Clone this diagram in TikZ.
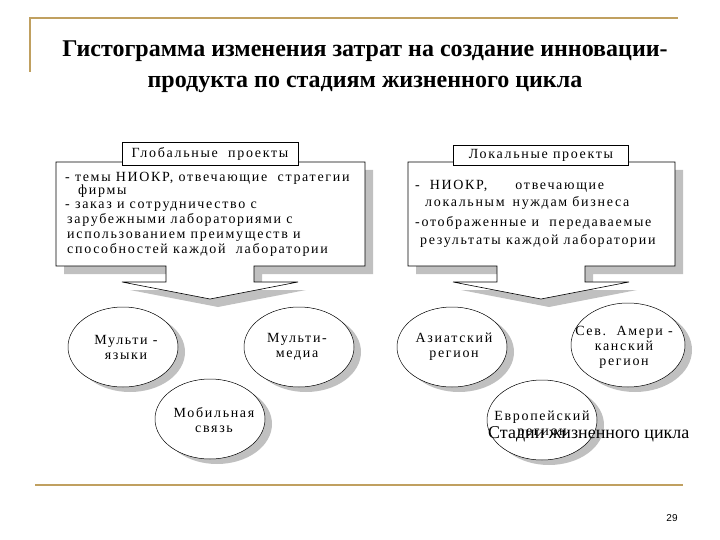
\documentclass[tikz,border=0pt]{standalone}
\usepackage{fontspec}
\setmainfont{Liberation Serif}
\newfontfamily\boxfont{Liberation Serif}[LetterSpace=12]
\newfontfamily\numfont{Liberation Sans}
\usetikzlibrary{shapes.geometric,shadows}

\definecolor{goldline}{RGB}{192,160,96}
\definecolor{shadowgray}{RGB}{192,192,192}

% box with a wide arrow under it: #1 centre x, #2 left edge, #3 right edge
\newcommand{\calloutpath}[3]{%
  (#2,162) -- (#3,162) -- (#3,266) -- (#1+44,266) -- (#1+44,282)
  -- (#1+88,282) -- (#1,299) -- (#1-88,282) -- (#1-44,282)
  -- (#1-44,266) -- (#2,266) -- cycle}

\begin{document}
\begin{tikzpicture}[x=1pt,y=-1pt,
  rule/.style={goldline,line width=1.6pt},
  titletext/.style={anchor=base,inner sep=0pt,font=\bfseries\fontsize{24}{27}\selectfont},
  shade/.style={fill=shadowgray,draw=none},
  callout/.style={draw=black,fill=white,line width=0.6pt},
  headbox/.style={draw=black,fill=white,line width=0.6pt,inner sep=0pt,
    font=\boxfont\fontsize{14}{16}\selectfont},
  boxline/.style={anchor=base west,inner sep=0pt,font=\boxfont\fontsize{14}{16}\selectfont},
  bubble/.style={ellipse,draw=black,fill=white,line width=0.5pt,inner sep=0pt,
    minimum width=110,minimum height=80,
    drop shadow={shadow xshift=7pt,shadow yshift=-5pt,fill=shadowgray,opacity=1}},
  bubtext/.style={align=center,inner sep=0pt,font=\boxfont\fontsize{14}{15}\selectfont}]

  \useasboundingbox (0,0) rectangle (720,540);

  % slide frame
  \draw[rule] (30,72) -- (30,18) -- (678,18);
  \draw[rule] (35,485) -- (683,485);

  \node[titletext] (title1) at (365,57) {Гистограмма изменения затрат на создание инновации-};
  \node[titletext] (title2) at (365,88) {продукта по стадиям жизненного цикла};

  %% left panel
  \fill[shade,shift={(8,8)}] \calloutpath{210}{56}{365};
  \draw[callout] \calloutpath{210}{56}{365};
  \node[headbox,minimum width=176,minimum height=23] (globhead) at (210,154) {Глобальные\ \ проекты};

  \node[boxline] (gl1) at (65,182) {- темы НИОКР, отвечающие\ \ стратегии};
  \node[boxline] (gl2) at (78,195) {фирмы};
  \node[boxline] (gl3) at (65,209) {- заказ и сотрудничество с};
  \node[boxline] (gl4) at (67,223) {зарубежными лабораториями с};
  \node[boxline] (gl5) at (67,238) {использованием преимуществ и};
  \node[boxline] (gl6) at (67,254) {способностей каждой\ \ лаборатории};

  %% right panel
  \fill[shade,shift={(8,8)}] \calloutpath{541}{408}{675};
  \draw[callout] \calloutpath{541}{408}{675};
  \node[headbox,minimum width=175,minimum height=20] (lochead) at (541,155) {Локальные проекты};

  \node[boxline] (lc1) at (415,190) {-\hspace{10pt}НИОКР,\hspace{28pt}отвечающие};
  \node[boxline] (lc2) at (425,207) {локальным\hspace{8pt}нуждам бизнеса};
  \node[boxline] (lc3) at (415,226) {-отображенные и\ \ передаваемые};
  \node[boxline] (lc4) at (420,244) {результаты каждой лаборатории};

  %% bubbles
  \node[bubble] (multlang) at (123,347) {};
  \node[bubble] (multmedia) at (299,347) {};
  \node[bubble] (mobile) at (210,419) {};
  \node[bubble] (asia) at (452,347) {};
  \node[bubble,minimum width=114,minimum height=84] (amer) at (628,345) {};
  \node[bubble] (euro) at (542,420) {};

  \node[bubtext] (multlangtxt) at ([xshift=3]multlang) {Мульти -\\языки};
  \node[bubtext] (multmediatxt) at ([xshift=-2]multmedia) {Мульти-\\медиа};
  \node[bubtext] (mobiletxt) at ([xshift=4,yshift=-1]mobile) {Мобильная\\связь};
  \node[bubtext] (asiatxt) at ([xshift=2]asia) {Азиатский\\регион};
  \node[bubtext] (amertxt) at ([xshift=-4,yshift=-2]amer) {Сев.\ \ Амери -\\канский\\регион};
  \node[bubtext] (eurotxt) at ([yshift=-5]euro) {Европейский\\регион};

  \node[anchor=base west,inner sep=0pt,font=\fontsize{18}{20}\selectfont] (stages) at (488,438) {Стадии жизненного цикла};

  \node[font=\numfont\fontsize{10}{12}\selectfont] (pagenum) at (672,518) {29};

\end{tikzpicture}
\end{document}
